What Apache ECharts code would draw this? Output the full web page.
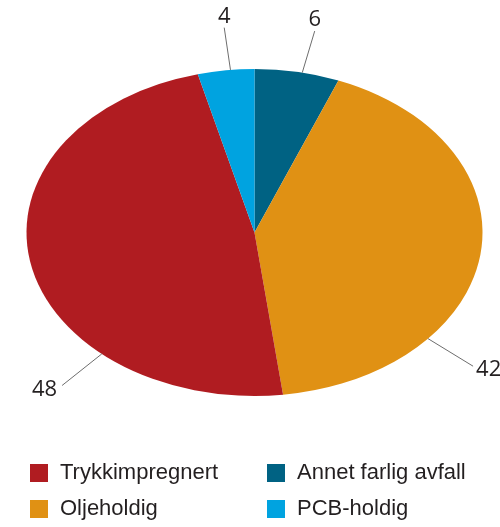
<!DOCTYPE html>
<html><head><meta charset="utf-8">
<script src="https://cdn.jsdelivr.net/npm/echarts@6/dist/echarts.min.js"></script>
<style>html,body{margin:0;padding:0;background:#fff}#c{width:500px;height:527px}</style>
</head><body><div id="c"></div>
<script>
// Data (pie order, clockwise from 12 o'clock)
const categories = ['Annet farlig avfall', 'Oljeholdig', 'Trykkimpregnert', 'PCB-holdig'];
const values = [6, 42, 48, 4];
const valueLabels = ['6', '42', '48', '4'];
const colors = ['#006283', '#E09114', '#B01C21', '#00A3E0'];
const legendLeft = ['Trykkimpregnert', 'Oljeholdig'];
const legendRight = ['Annet farlig avfall', 'PCB-holdig'];
// where the leader line leaves each slice (fraction through the slice)
const labelAnchor = [0.56, 0.72, 0.285, 0.58];

const CX = 254.5, CY = 232.5, RX = 228, RY = 163.5;
const total = values.reduce((a, b) => a + b, 0);
const starts = []; let acc = 0; values.forEach(v => { starts.push(acc); acc += v; });

function pt(theta, k) { return [CX + RX * k * Math.sin(theta), CY - RY * k * Math.cos(theta)]; }

function renderItem(params, api) {
  const i = params.seriesIndex;
  const v = api.value(0);
  const a0 = starts[i] / total * 2 * Math.PI, a1 = (starts[i] + v) / total * 2 * Math.PI;
  const am = a0 + (a1 - a0) * labelAnchor[i];
  const p1 = pt(am, 1.0), p2 = pt(am, 1.26);
  const s = Math.sin(am), c = Math.cos(am);
  let tx = p2[0], ty = p2[1], align = 'center', va = 'bottom';
  if (Math.abs(s) > 0.5) { align = s > 0 ? 'left' : 'right'; tx += s > 0 ? 3 : -5; va = 'middle'; ty += c < 0 ? 4 : 0; }
  else if (c < 0) { va = 'top'; }
  return {
    type: 'group', children: [
      { type: 'sector', x: CX, y: CY, scaleY: RY / RX,
        shape: { cx: 0, cy: 0, r0: 0, r: RX, startAngle: a0 - Math.PI / 2, endAngle: a1 - Math.PI / 2, clockwise: true },
        style: { fill: colors[i] } },
      { type: 'polyline', shape: { points: [p1, p2] }, style: { stroke: '#6d6d6d', lineWidth: 1, fill: 'none' } },
      { type: 'text', x: tx, y: ty,
        style: { text: valueLabels[i], fill: '#231F20', fontSize: 22, fontFamily: '"Open Sans"', align: align, verticalAlign: va } }
    ]
  };
}

const legendText = { fontSize: 22, lineHeight: 22, fontFamily: '"Liberation Sans", Arial', color: '#231F20', padding: [0, 0, 0, 7] };
const legendBase = { orient: 'vertical', top: 462, height: 70, padding: 0, icon: 'rect', itemWidth: 18, itemHeight: 18,
  itemGap: 14, textStyle: legendText, selectedMode: false };
const option = {
  animation: false,
  color: colors,
  legend: [
    Object.assign({}, legendBase, { left: 30, data: legendLeft }),
    Object.assign({}, legendBase, { left: 267, data: legendRight })
  ],
  series: categories.map((name, i) => ({
    type: 'custom', name: name, coordinateSystem: 'none',
    itemStyle: { color: colors[i] },
    data: [[values[i]]],
    renderItem: renderItem
  }))
};
const chart = echarts.init(document.getElementById('c'));
chart.setOption(option);
</script></body></html>
